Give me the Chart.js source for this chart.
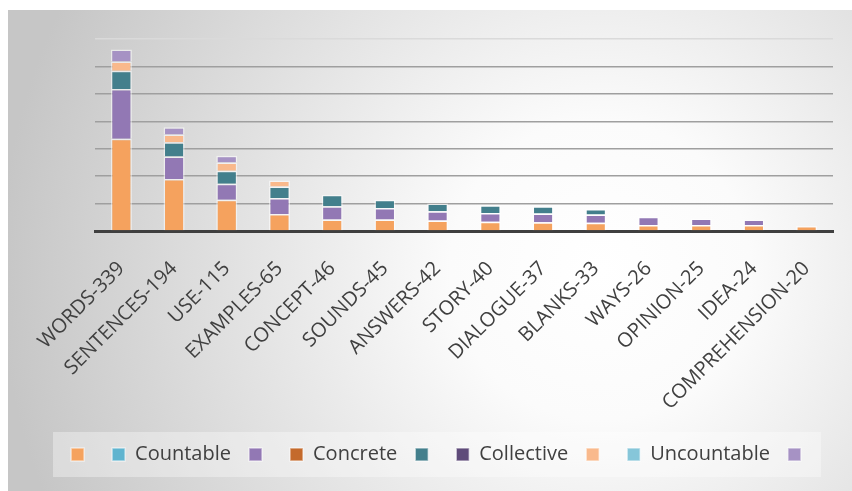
<!DOCTYPE html>
<html>
<head>
<meta charset="utf-8">
<script src="https://cdn.jsdelivr.net/npm/chart.js@4"></script>
<style>
  body { margin: 0; background: #fff; }
  #wrap { width: 852px; height: 491px; position: relative; }
</style>
</head>
<body>
<div id="wrap"><canvas id="chart"></canvas></div>
<script>
const categories = ['WORDS-339', 'SENTENCES-194', 'USE-115', 'EXAMPLES-65', 'CONCEPT-46', 'SOUNDS-45',
  'ANSWERS-42', 'STORY-40', 'DIALOGUE-37', 'BLANKS-33', 'WAYS-26', 'OPINION-25', 'IDEA-24', 'COMPREHENSION-20'];

// series names as they appear in the legend (blank ones have no name)
const seriesNames = ['', 'Countable', '', 'Concrete', '', 'Collective', '', 'Uncountable', ''];

const orangeVals      = [168, 95, 57, 31, 21, 21, 19, 17, 16, 15, 11, 11, 11, 9];
const countableVals   = [];
const purpleVals      = [91, 41, 29, 29, 24, 21, 17, 16, 16, 15, 15, 12, 10, null];
const concreteVals    = [];
const tealVals        = [33, 26, 24, 21, 21, 15, 14, 14, 13, 10, null, null, null, null];
const collectiveVals  = [];
const lightOrangeVals = [17, 14, 15, 11, null, null, null, null, null, null, null, null, null, null];
const uncountableVals = [];
const lightPurpleVals = [22, 13, 12, null, null, null, null, null, null, null, null, null, null, null];

const seriesData = [orangeVals, countableVals, purpleVals, concreteVals, tealVals,
  collectiveVals, lightOrangeVals, uncountableVals, lightPurpleVals];
const colors = ['#f5a25e', '#5fb4cf', '#9278b4', '#c46a2c', '#437f8c', '#5f4b7a', '#f9b98c', '#86c6d9', '#a692c4'];

const bgPlugin = {
  id: 'bg',
  beforeDraw(chart) {
    const c = chart.ctx;
    c.save();
    c.fillStyle = '#fff';
    c.fillRect(0, 0, chart.width, chart.height);
    const g = c.createRadialGradient(600, 270, 0, 600, 270, 600);
    g.addColorStop(0, '#ffffff');
    g.addColorStop(0.25, '#fbfbfb');
    g.addColorStop(1, '#c6c6c6');
    c.fillStyle = g;
    c.fillRect(8, 10, chart.width - 8, chart.height - 10);
    // legend panel
    c.fillStyle = 'rgba(255,255,255,0.35)';
    c.fillRect(53, 432, 768, 45);
    c.restore();
  }
};

const ctx = document.getElementById('chart').getContext('2d');
new Chart(ctx, {
  type: 'bar',
  data: {
    labels: categories,
    datasets: seriesData.map((d, i) => ({
      label: seriesNames[i],
      data: d,
      backgroundColor: colors[i],
      borderColor: 'rgba(255,255,255,0.55)',
      borderWidth: 1.5,
      categoryPercentage: 0.5,
      barPercentage: 0.8
    }))
  },
  options: {
    responsive: true,
    maintainAspectRatio: false,
    animation: false,
    layout: { padding: { left: 49, right: 19, top: 39, bottom: 16.5 } },
    scales: {
      x: {
        stacked: true,
        grid: { display: false },
        border: { color: '#3f3f3f', width: 3 },
        ticks: {
          autoSkip: false,
          maxRotation: 45,
          minRotation: 45,
          padding: 18,
          color: '#404040',
          font: { family: 'Open Sans', size: 20 }
        },
        afterFit: s => { s.height = 195.5; }
      },
      y: {
        stacked: true,
        min: 0,
        max: 350,
        ticks: { display: false, stepSize: 50 },
        border: { display: false },
        grid: {
          drawTicks: false,
          lineWidth: 1.5,
          color: c => c.tick && c.tick.value === 350 ? '#dadada' : '#9f9f9f'
        },
        afterFit: s => { s.width = 46; }
      }
    },
    plugins: {
      tooltip: { enabled: false },
      legend: {
        position: 'bottom',
        labels: {
          boxWidth: 13,
          boxHeight: 13,
          padding: 18,
          color: '#404040',
          font: { family: 'Open Sans', size: 20 }
        }
      }
    }
  },
  plugins: [bgPlugin]
});
</script>
</body>
</html>
